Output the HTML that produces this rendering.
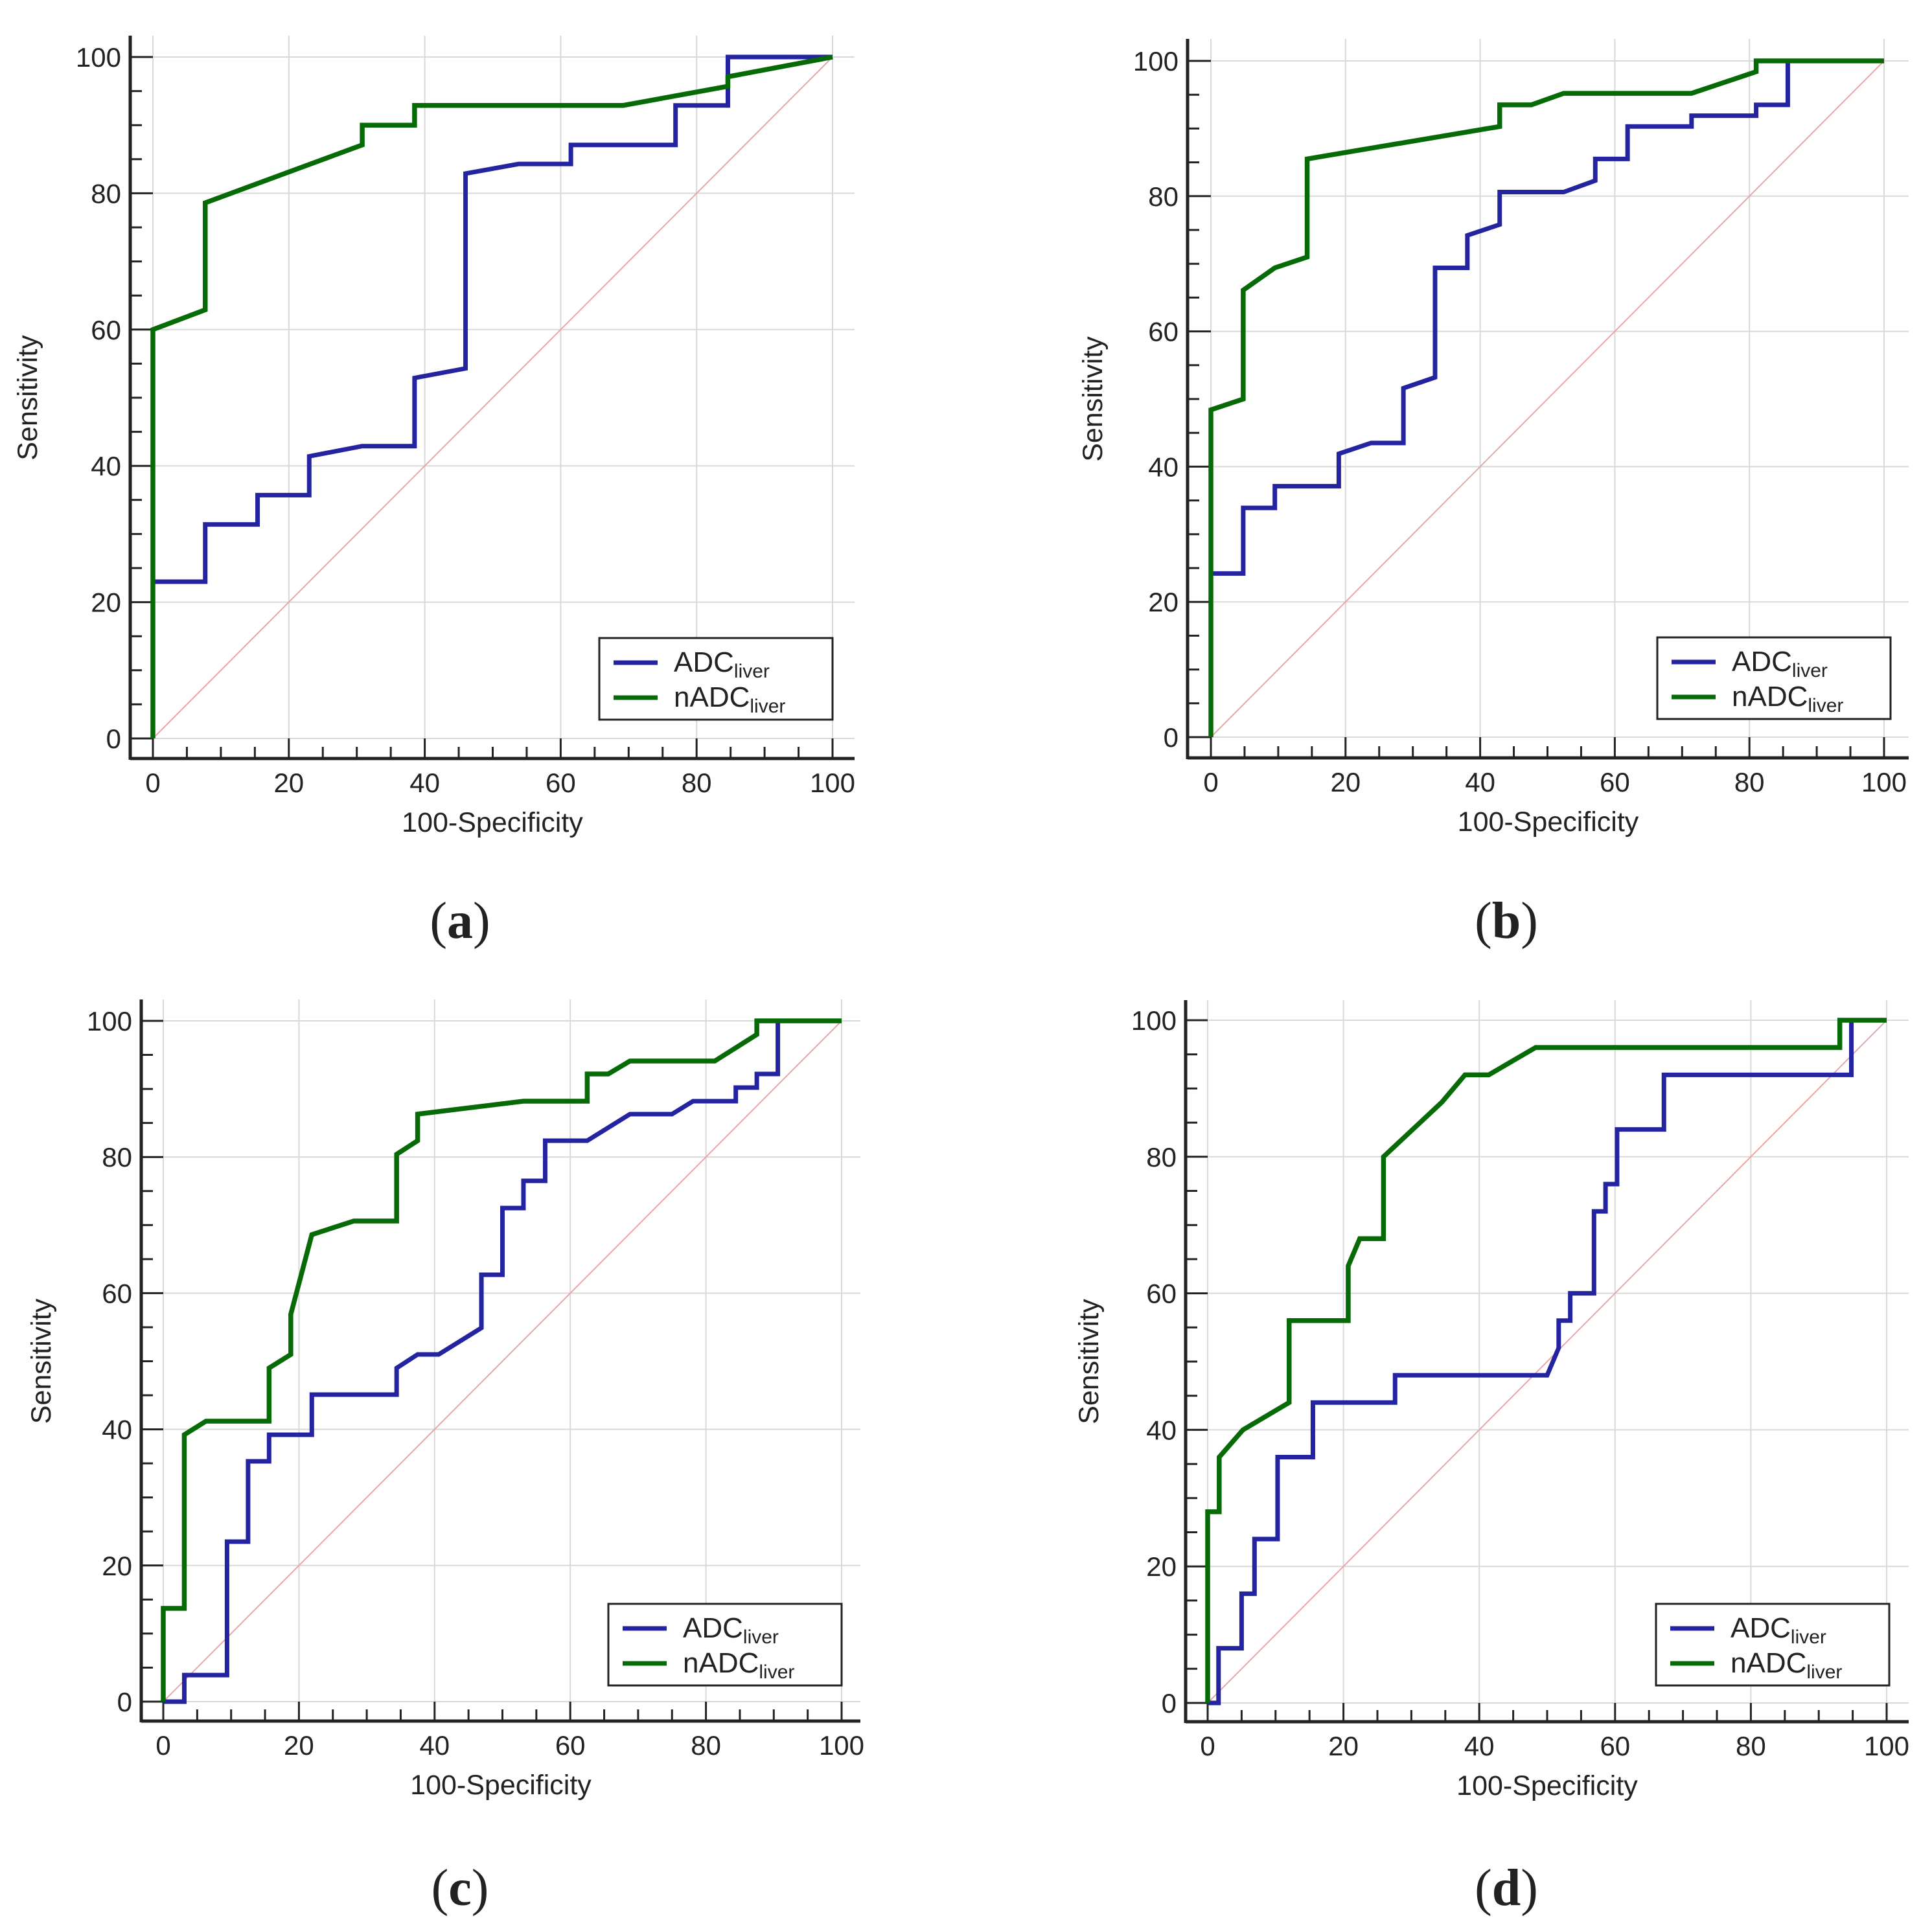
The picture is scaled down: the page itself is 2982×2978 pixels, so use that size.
<!DOCTYPE html>
<html><head><meta charset="utf-8">
<style>
html,body{margin:0;padding:0;background:#fff;}
svg{display:block;}
text{font-family:"Liberation Sans",sans-serif;fill:#222;}
</style></head>
<body>
<svg id="fig" width="2982" height="2978" viewBox="0 0 2982 2978" xmlns="http://www.w3.org/2000/svg"></svg>
<script>
// Panel (a)
const aAdcX = [0,7.7,7.7,15.4,15.4,23,23,30.8,38.5,38.5,46,46,53.8,61.5,61.5,76.9,76.9,84.6,84.6,100];
const aAdcY = [23,23,31.4,31.4,35.7,35.7,41.4,42.9,42.9,52.9,54.3,82.9,84.3,84.3,87.1,87.1,92.9,92.9,100,100];
const aNadcX = [0,0,7.7,7.7,30.8,30.8,38.5,38.5,69.2,84.6,84.6,100];
const aNadcY = [0,60,62.9,78.6,87.1,90,90,92.9,92.9,95.7,97.1,100];
// Panel (b)
const bAdcX = [0,4.8,4.8,9.5,9.5,19,19,23.8,28.6,28.6,33.3,33.3,38.1,38.1,42.9,42.9,52.4,57.1,57.1,61.9,61.9,71.4,71.4,81,81,85.7,85.7,100];
const bAdcY = [24.2,24.2,33.9,33.9,37.1,37.1,41.9,43.5,43.5,51.6,53.2,69.4,69.4,74.2,75.8,80.6,80.6,82.3,85.5,85.5,90.3,90.3,91.9,91.9,93.5,93.5,100,100];
const bNadcX = [0,0,4.8,4.8,9.5,14.3,14.3,42.9,42.9,47.6,52.4,71.4,81,81,100];
const bNadcY = [0,48.4,50,66.1,69.4,71,85.5,90.3,93.5,93.5,95.2,95.2,98.4,100,100];
// Panel (c)
const cAdcX = [0,3.1,3.1,9.4,9.4,12.5,12.5,15.6,15.6,21.9,21.9,34.4,34.4,37.5,40.6,46.9,46.9,50,50,53.1,53.1,56.3,56.3,62.5,68.8,75,78.1,84.4,84.4,87.5,87.5,90.6,90.6,100];
const cAdcY = [0,0,3.9,3.9,23.5,23.5,35.3,35.3,39.2,39.2,45.1,45.1,49,51,51,54.9,62.7,62.7,72.5,72.5,76.5,76.5,82.4,82.4,86.3,86.3,88.2,88.2,90.2,90.2,92.2,92.2,100,100];
const cNadcX = [0,0,3.1,3.1,6.3,15.6,15.6,18.8,18.8,21.9,28.1,34.4,34.4,37.5,37.5,53.1,62.5,62.5,65.6,68.8,81.3,87.5,87.5,100];
const cNadcY = [0,13.7,13.7,39.2,41.2,41.2,49,51,56.9,68.6,70.6,70.6,80.4,82.4,86.3,88.2,88.2,92.2,92.2,94.1,94.1,98,100,100];
// Panel (d)
const dAdcX = [0,1.6,1.6,5,5,6.9,6.9,10.3,10.3,15.5,15.5,27.6,27.6,50,51.7,51.7,53.4,53.4,56.9,56.9,58.6,58.6,60.3,60.3,67.2,67.2,94.8,94.8,100];
const dAdcY = [0,0,8,8,16,16,24,24,36,36,44,44,48,48,52,56,56,60,60,72,72,76,76,84,84,92,92,100,100];
const dNadcX = [0,0,1.7,1.7,5.2,12,12,20.7,20.7,22.4,25.9,25.9,34.5,37.9,41.4,48.3,93.1,93.1,100];
const dNadcY = [0,28,28,36,40,44,56,56,64,68,68,80,88,92,92,96,96,100,100];

const tickLabels = ["0","20","40","60","80","100"];
const tickValues = [0,20,40,60,80,100];
const legendLabels = ["ADC","nADC"];
const panelLetters = ["a","b","c","d"];

const NS = "http://www.w3.org/2000/svg";
const svg = document.getElementById("fig");
function mk(tag, attrs, parent){
  const e = document.createElementNS(NS, tag);
  for (const k in attrs) e.setAttribute(k, attrs[k]);
  (parent||svg).appendChild(e);
  return e;
}

const panels = [
  {x0:236,x100:1285,y0:1140,y100:88,axL:201,axB:1171,axT:55,axR:1319,ylx:42,lab:[710,1428],leg:[925,985],adcX:aAdcX,adcY:aAdcY,nX:aNadcX,nY:aNadcY},
  {x0:1869,x100:2908,y0:1138,y100:94,axL:1833,axB:1170,axT:60,axR:2946,ylx:1686,lab:[2325,1428],leg:[2558,984],adcX:bAdcX,adcY:bAdcY,nX:bNadcX,nY:bNadcY},
  {x0:252,x100:1299,y0:2627,y100:1576,axL:218,axB:2657,axT:1543,axR:1328,ylx:63,lab:[710,2921],leg:[939,2476],adcX:cAdcX,adcY:cAdcY,nX:cNadcX,nY:cNadcY},
  {x0:1864,x100:2912,y0:2629,y100:1575,axL:1830,axB:2658,axT:1544,axR:2946,ylx:1680,lab:[2325,2921],leg:[2556,2476],adcX:dAdcX,adcY:dAdcY,nX:dNadcX,nY:dNadcY}
];

panels.forEach((p, i) => {
  const L = panelLetters[i];
  const g = mk("g", {});
  
  
  const sx = v => p.x0 + (p.x100 - p.x0) * v / 100;
  const sy = v => p.y0 + (p.y100 - p.y0) * v / 100;

  tickValues.forEach(v => {
    const gv = mk("line", {x1:sx(v), x2:sx(v), y1:p.axT, y2:p.y0, stroke:"#d9d9d9", "stroke-width":2}, g);
    
    
    const gh = mk("line", {x1:p.x0, x2:p.axR, y1:sy(v), y2:sy(v), stroke:"#d9d9d9", "stroke-width":2}, g);
    
    
  });
  const dg = mk("line", {x1:sx(0), y1:sy(0), x2:sx(100), y2:sy(100), stroke:"#eaa6a6", "stroke-width":2}, g);
  
  

  for (let v = 0; v <= 100; v += 5) {
    const major = v % 20 === 0;
    const tx = mk("line", {x1:sx(v), x2:sx(v), y1:p.axB, y2: major ? p.y0 : p.axB - 18, stroke:"#222", "stroke-width":3}, g);
    
    
    const ty = mk("line", {x1:p.axL, x2: major ? p.x0 : p.axL + 18, y1:sy(v), y2:sy(v), stroke:"#222", "stroke-width":3}, g);
    
    
  }
  const ax = mk("line", {x1:p.axL, x2:p.axR, y1:p.axB, y2:p.axB, stroke:"#222", "stroke-width":5}, g);
  
  
  const ay = mk("line", {x1:p.axL, x2:p.axL, y1:p.axT, y2:p.axB + 2, stroke:"#222", "stroke-width":5}, g);
  
  

  tickValues.forEach((v, k) => {
    const xl = mk("text", {x:sx(v), y:p.axB + 52, "font-size":42, "text-anchor":"middle"}, g);
    xl.textContent = tickLabels[k];
    
    
    const yl = mk("text", {x:p.axL - 14, y:sy(v) + 15, "font-size":42, "text-anchor":"end"}, g);
    yl.textContent = tickLabels[k];
    
    
  });
  const xt = mk("text", {x:(p.axL + p.axR) / 2, y:p.axB + 113, "font-size":43, "text-anchor":"middle"}, g);
  xt.textContent = "100-Specificity";
  
  
  const ycy = (p.y0 + p.y100) / 2;
  const yt = mk("text", {x:p.ylx, y:ycy, "font-size":43, "text-anchor":"middle", transform:`rotate(-90 ${p.ylx} ${ycy})`, dy:15}, g);
  yt.textContent = "Sensitivity";
  
  

  const ptsA = p.adcX.map((x, k) => sx(x) + "," + sy(p.adcY[k])).join(" ");
  const sa = mk("polyline", {points:ptsA, fill:"none", stroke:"#2424a0", "stroke-width":7, "stroke-linejoin":"miter"}, g);
  
  
  const ptsN = p.nX.map((x, k) => sx(x) + "," + sy(p.nY[k])).join(" ");
  const sn = mk("polyline", {points:ptsN, fill:"none", stroke:"#066b06", "stroke-width":7.5, "stroke-linejoin":"miter"}, g);
  
  

  const lg = mk("g", {}, g);
  
  
  const [lx, ly] = p.leg;
  mk("rect", {x:lx, y:ly, width:360, height:126, fill:"#fff", stroke:"#222", "stroke-width":3}, lg);
  const colors = ["#2424a0", "#066b06"];
  legendLabels.forEach((lbl, k) => {
    const yy = ly + 38 + k * 54;
    const ln = mk("line", {x1:lx + 22, x2:lx + 90, y1:yy, y2:yy, stroke:colors[k], "stroke-width":7}, lg);
    
    
    const t = mk("text", {x:lx + 115, y:yy + 14, "font-size":44}, lg);
    
    
    t.appendChild(document.createTextNode(lbl));
    const sub = mk("tspan", {"font-size":30, dy:9}, t);
    sub.textContent = "liver";
  });

  const pl = mk("text", {x:p.lab[0], y:p.lab[1] + 20, "font-size":80, "text-anchor":"middle", style:"font-family:'Liberation Serif',serif"}, g);
  
  
  pl.appendChild(document.createTextNode("("));
  const b = mk("tspan", {"font-weight":"bold"}, pl);
  b.textContent = L;
  pl.appendChild(document.createTextNode(")"));
});
</script>
</body></html>
